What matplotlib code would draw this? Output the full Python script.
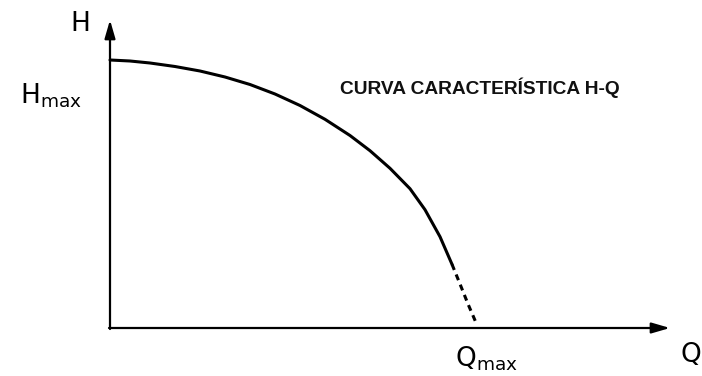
import matplotlib.pyplot as plt

# H-Q characteristic of a centrifugal pump (arbitrary units)
q_solid = [0, 20, 40, 65, 90, 115, 140, 165, 190, 215, 240, 260, 280, 300, 315, 330, 342]
h_solid = [268, 267, 265, 261.5, 257, 251, 243.5, 234, 222.5, 208.7, 192.5, 177.3, 159.7,
           139.3, 118.3, 91.3, 63.7]
q_dashed = [342, 350, 358, 367]
h_dashed = [63.7, 44, 24, 3]

q_end = 560
h_end = 308

title = "CURVA CARACTERÍSTICA H-Q"

fig = plt.figure(figsize=(7.02, 3.76), dpi=100)
ax = fig.add_axes([0, 0, 1, 1])
ax.set_xlim(-110, 592)
ax.set_ylim(-48, 328)
ax.axis("off")

arrow = dict(arrowstyle="-|>,head_length=1.1,head_width=0.32", color="black",
             lw=1.6, shrinkA=0, shrinkB=0)
ax.annotate("", xy=(0, h_end), xytext=(0, -1), arrowprops=arrow)
ax.annotate("", xy=(q_end, 0), xytext=(-1, 0), arrowprops=arrow)

ax.plot(q_solid, h_solid, color="black", lw=2.2, solid_capstyle="round",
        solid_joinstyle="round")
ax.plot(q_dashed, h_dashed, color="black", lw=2.2, linestyle=(0, (2.0, 1.6)))

lab = dict(fontsize=19, color="black", family="DejaVu Sans")
ax.text(-40, 304, "H", ha="left", va="center", **lab)
ax.text(-90, 232, r"$\mathregular{H_{max}}$", ha="left", va="center", **lab)
ax.text(345, -31, r"$\mathregular{Q_{max}}$", ha="left", va="center", **lab)
ax.text(570, -27, "Q", ha="left", va="center", **lab)

ax.text(230, 240, title, ha="left", va="center", fontsize=13.8,
        fontweight="bold", family="Liberation Sans", color="#111111")

fig.savefig("out.png", dpi=100, facecolor="white")
